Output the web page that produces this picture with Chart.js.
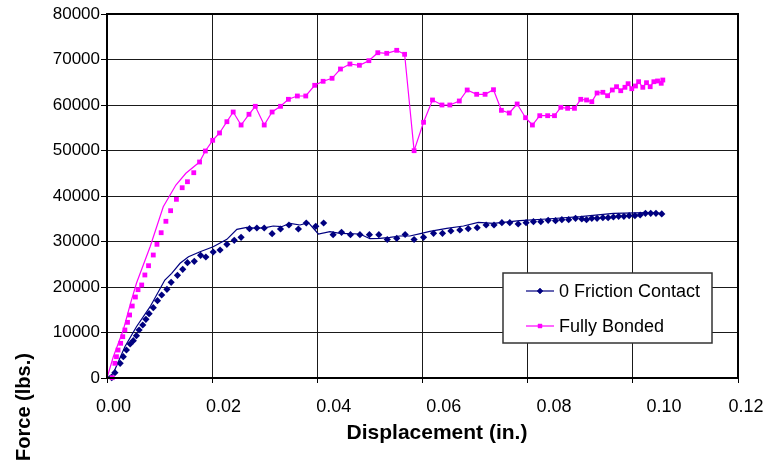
<!DOCTYPE html>
<html>
<head>
<meta charset="utf-8">
<title>Force vs Displacement</title>
<script src="https://cdn.jsdelivr.net/npm/chart.js@4.4.1/dist/chart.umd.min.js"></script>
<style>
  html, body { margin: 0; padding: 0; background: #fff; }
  #wrap { width: 767px; height: 468px; }
</style>
</head>
<body>
<div id="wrap"><canvas id="chart" width="767" height="468"></canvas></div>
<script>
// ── DATA ──────────────────────────────────────────────
var seriesNames = ['0 Friction Contact', 'Fully Bonded'];
var xTickLabels = ['0.00', '0.02', '0.04', '0.06', '0.08', '0.10', '0.12'];
var yTickValues = [0, 10000, 20000, 30000, 40000, 50000, 60000, 70000, 80000];

// 0 Friction Contact – markers
var frictionMarkX = [0.0009, 0.0015, 0.0025, 0.0031, 0.0037, 0.0044, 0.0050, 0.0056, 0.0061, 0.0068,
  0.0074, 0.0080, 0.0088, 0.0096, 0.0104, 0.0114, 0.0122, 0.0134, 0.0144, 0.0153,
  0.0166, 0.0178, 0.0188, 0.0202, 0.0215, 0.0228, 0.0242, 0.0255, 0.0271, 0.0285,
  0.0299, 0.0314, 0.0330, 0.0346, 0.0364, 0.0379, 0.0397, 0.0412, 0.0430, 0.0446,
  0.0463, 0.0481, 0.0499, 0.0517, 0.0533, 0.0551, 0.0567, 0.0584, 0.0602, 0.0621,
  0.0638, 0.0654, 0.0671, 0.0687, 0.0704, 0.0721, 0.0736, 0.0751, 0.0766, 0.0782,
  0.0797, 0.0811, 0.0825, 0.0839, 0.0853, 0.0865, 0.0878, 0.0891, 0.0903, 0.0912,
  0.0922, 0.0932, 0.0943, 0.0953, 0.0963, 0.0973, 0.0983, 0.0993, 0.1004, 0.1014,
  0.1024, 0.1034, 0.1044, 0.1055];
var frictionMarkY = [70, 1160, 3230, 4680, 6150, 7470, 8200, 9300, 10550, 11650,
  12900, 14130, 15450, 16990, 18240, 19490, 21030, 22570, 23890, 25340,
  25650, 26970, 26590, 27690, 28130, 29380, 30260, 30920, 32810, 32970,
  32970, 31710, 32750, 33630, 32750, 34070, 33340, 34070, 31490, 32020,
  31490, 31490, 31490, 31490, 30440, 30700, 31540, 30440, 30920, 31800,
  31800, 32310, 32530, 32810, 33030, 33630, 33630, 34130, 34130, 33850,
  34130, 34350, 34350, 34660, 34570, 34790, 34790, 35100, 34950, 34790,
  35100, 35100, 35230, 35230, 35380, 35540, 35540, 35670, 35670, 35820,
  36200, 36200, 36200, 36050];

// 0 Friction Contact – line
var frictionLineX = [0, 0.0012, 0.0034, 0.0056, 0.0082, 0.0110, 0.0123, 0.0139, 0.0155, 0.0177,
  0.0202, 0.0228, 0.0247, 0.0266, 0.0285, 0.0304, 0.0316, 0.0332, 0.0348, 0.0367,
  0.0383, 0.0402, 0.0424, 0.0443, 0.0481, 0.0500, 0.0519, 0.0538, 0.0557, 0.0576,
  0.0598, 0.0614, 0.0646, 0.0678, 0.0706, 0.0735, 0.0785, 0.0836, 0.0900, 0.0963,
  0.1026, 0.1058];
var frictionLineY = [0, 1030, 6880, 11270, 15670, 21540, 23010, 25210, 26660, 27760,
  28860, 30480, 32680, 33120, 32900, 33120, 33410, 33250, 34000, 33630,
  34130, 31650, 32150, 31800, 31650, 30620, 30700, 30920, 31210, 31210,
  31800, 32240, 32900, 33410, 34220, 34000, 34570, 34950, 35450, 36200,
  36330, 36200];

// Fully Bonded – markers
var bondedMarkX = [0.0010, 0.0015, 0.0018, 0.0021, 0.0026, 0.0030, 0.0034, 0.0039, 0.0043, 0.0048,
  0.0054, 0.0059, 0.0066, 0.0072, 0.0079, 0.0088, 0.0095, 0.0103, 0.0112, 0.0121,
  0.0132, 0.0143, 0.0153, 0.0165, 0.0176, 0.0187, 0.0201, 0.0214, 0.0228, 0.0240,
  0.0255, 0.0270, 0.0282, 0.0299, 0.0314, 0.0330, 0.0345, 0.0362, 0.0378, 0.0395,
  0.0411, 0.0428, 0.0444, 0.0462, 0.0480, 0.0498, 0.0515, 0.0532, 0.0551, 0.0566,
  0.0584, 0.0602, 0.0619, 0.0637, 0.0652, 0.0670, 0.0685, 0.0703, 0.0719, 0.0735,
  0.0750, 0.0765, 0.0780, 0.0796, 0.0809, 0.0823, 0.0838, 0.0851, 0.0863, 0.0876,
  0.0889, 0.0901, 0.0912, 0.0922, 0.0932, 0.0943, 0.0952, 0.0961, 0.0969, 0.0977,
  0.0985, 0.0991, 0.0998, 0.1005, 0.1011, 0.1019, 0.1026, 0.1033, 0.1040, 0.1047,
  0.1054, 0.1057];
var bondedMarkY = [70, 3230, 4680, 6150, 7630, 9080, 10550, 12240, 13850, 15820,
  17800, 19410, 20440, 22640, 24680, 27030, 29380, 31930, 34440, 36770,
  39270, 41820, 43140, 45120, 47470, 49890, 52240, 53850, 56330, 58460,
  55600, 57960, 59710, 55600, 58460, 59710, 61250, 61980, 61980, 64330,
  65210, 65870, 67910, 69010, 68730, 69740, 71490, 71360, 72020, 71140,
  49960, 56200, 61100, 60000, 60000, 60880, 63300, 62350, 62350, 63360,
  58830, 58240, 60220, 57210, 55600, 57650, 57650, 57650, 59490, 59270,
  59270, 61250, 61100, 60730, 62640, 62790, 62040, 63300, 64020, 63140,
  63890, 64680, 63580, 64180, 65120, 63890, 64900, 64020, 65120, 65280,
  64770, 65490];

// Fully Bonded – line (early part; afterwards it runs through the markers)
var bondedLineX = [0, 0.0012, 0.0031, 0.0045, 0.0056, 0.0082, 0.0107, 0.0131, 0.0150];
var bondedLineY = [0, 4680, 10550, 16500, 20810, 28860, 37650, 42420, 44990];
var bondedJoinX = 0.017;   // line picks up the marker points from here on

// ── STYLE ─────────────────────────────────────────────
var NAVY = '#000080';
var MAGENTA = '#FF00FF';
var FONT = '"Liberation Sans", Arial, sans-serif';

function pts(xs, ys) {
  return xs.map(function (x, i) { return { x: x, y: ys[i] }; });
}

var bondedMarks = pts(bondedMarkX, bondedMarkY);
var bondedLine = pts(bondedLineX, bondedLineY).concat(
  bondedMarks.filter(function (p) { return p.x > bondedJoinX; })
);

// ── DECOR: frame, shifted x labels, axis titles, legend box ──
var decor = {
  id: 'decor',
  afterDraw: function (chart) {
    var ctx = chart.ctx, a = chart.chartArea, xs = chart.scales.x;
    ctx.save();

    ctx.strokeStyle = '#000';
    ctx.lineWidth = 2;
    ctx.strokeRect(a.left, a.top, a.right - a.left, a.bottom - a.top);

    // Excel spreads its x labels slightly wider than the grid
    ctx.fillStyle = '#000';
    ctx.font = '18px ' + FONT;
    ctx.textAlign = 'center';
    ctx.textBaseline = 'middle';
    var x0 = xs.getPixelForValue(0);
    xTickLabels.forEach(function (t, i) {
      var px = Math.min(x0 + 6.5 + i * 110.1, chart.width - 21);
      ctx.fillText(t, px, a.bottom + 29);
    });

    ctx.font = 'bold 21px ' + FONT;
    ctx.fillText('Displacement (in.)', 437, a.bottom + 55);

    ctx.save();
    ctx.translate(24, 407);
    ctx.rotate(-Math.PI / 2);
    ctx.font = 'bold 20px ' + FONT;
    ctx.fillText('Force (lbs.)', 0, 0);
    ctx.restore();

    // legend
    var lx = 503, ly = 273, lw = 209, lh = 70;
    ctx.fillStyle = '#fff';
    ctx.fillRect(lx, ly, lw, lh);
    ctx.strokeStyle = '#333';
    ctx.lineWidth = 1.5;
    ctx.strokeRect(lx, ly, lw, lh);

    var rows = [
      { name: seriesNames[0], color: NAVY, style: 'rectRot', r: 3 },
      { name: seriesNames[1], color: MAGENTA, style: 'rect', r: 3 }
    ];
    rows.forEach(function (row, i) {
      var y = ly + 18 + i * 35;
      ctx.strokeStyle = row.color;
      ctx.lineWidth = 1.2;
      ctx.beginPath();
      ctx.moveTo(lx + 23, y);
      ctx.lineTo(lx + 51, y);
      ctx.stroke();
      ctx.fillStyle = row.color;
      Chart.helpers.drawPoint(ctx, { pointStyle: row.style, radius: row.r, borderWidth: 0, rotation: 0 }, lx + 37, y);
      ctx.fill();
      ctx.fillStyle = '#000';
      ctx.font = '18px ' + FONT;
      ctx.textAlign = 'left';
      ctx.fillText(row.name, lx + 56, y + 1);
    });

    ctx.restore();
  }
};

// ── CHART ─────────────────────────────────────────────
new Chart(document.getElementById('chart').getContext('2d'), {
  type: 'scatter',
  data: {
    datasets: [
      {
        label: seriesNames[1],
        data: bondedMarks,
        showLine: false,
        pointStyle: 'rect',
        pointRadius: 3.4,
        pointBackgroundColor: MAGENTA,
        pointBorderWidth: 0,
        clip: 8
      },
      {
        label: seriesNames[1] + ' line',
        data: bondedLine,
        showLine: true,
        borderColor: MAGENTA,
        borderWidth: 1.2,
        pointRadius: 0,
        tension: 0,
        clip: 8
      },
      {
        label: seriesNames[0],
        data: pts(frictionMarkX, frictionMarkY),
        showLine: false,
        pointStyle: 'rectRot',
        pointRadius: 3.6,
        pointBackgroundColor: NAVY,
        pointBorderWidth: 0,
        clip: 8
      },
      {
        label: seriesNames[0] + ' line',
        data: pts(frictionLineX, frictionLineY),
        showLine: true,
        borderColor: NAVY,
        borderWidth: 1.2,
        pointRadius: 0,
        tension: 0,
        clip: 8
      }
    ]
  },
  options: {
    responsive: false,
    animation: false,
    events: [],
    devicePixelRatio: 1,
    layout: { padding: { top: 14, right: 29, bottom: 0, left: 0 } },
    plugins: { legend: { display: false }, tooltip: { enabled: false } },
    scales: {
      x: {
        type: 'linear',
        min: 0,
        max: 0.12,
        afterFit: function (s) { s.height = 90; },
        ticks: { stepSize: 0.02, display: false },
        grid: { color: '#1a1a1a', lineWidth: 1, tickLength: 5, tickColor: '#000' },
        border: { color: '#000', width: 2 }
      },
      y: {
        min: 0,
        max: 80000,
        afterFit: function (s) { s.width = 107; },
        afterBuildTicks: function (s) {
          s.ticks = yTickValues.map(function (v) { return { value: v }; });
        },
        ticks: {
          color: '#000',
          padding: 1,
          font: { family: FONT, size: 17 },
          callback: function (v) { return String(v); }
        },
        grid: { color: '#1a1a1a', lineWidth: 1, tickLength: 6, tickColor: '#000' },
        border: { color: '#000', width: 2 }
      }
    }
  },
  plugins: [decor]
});
</script>
</body>
</html>
